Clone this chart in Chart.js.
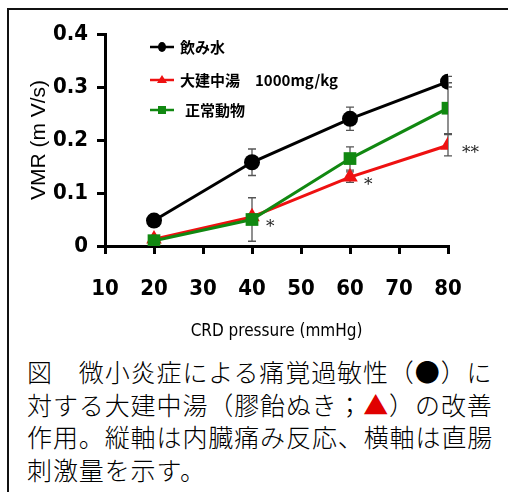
<!DOCTYPE html>
<html><head><meta charset="utf-8">
<script src="https://cdn.jsdelivr.net/npm/chart.js@4/dist/chart.umd.min.js"></script>
<style>
html,body{margin:0;padding:0;background:#fff;}
#wrap{position:relative;width:508px;height:492px;overflow:hidden;}
#frame{position:absolute;left:7px;top:8px;width:600px;height:600px;border-left:2px solid #111;border-top:2px solid #111;}
#c{position:absolute;left:0;top:0;}
#cap{position:absolute;left:27px;top:355px;font-family:"Noto Sans CJK JP";font-size:25px;line-height:32.5px;color:#000;white-space:nowrap;letter-spacing:0.9px;font-weight:300;}
.red{color:#e00000;}
</style></head><body>
<div id="wrap">
<div id="frame"></div>
<canvas id="c" width="508" height="345"></canvas>
<div id="cap">図　微小炎症による痛覚過敏性（●）に<br>対する大建中湯（膠飴ぬき；<span class="red">▲</span>）の改善<br>作用。縦軸は内臓痛み反応、横軸は直腸<br>刺激量を示す。</div>
</div>
<script>
const pressures = [20, 40, 60, 80];
const xTicks = [10, 20, 30, 40, 50, 60, 70, 80];
const yTicks = [0, 0.1, 0.2, 0.3, 0.4];
const seriesNames = ['飲み水', '大建中湯　1000mg/kg', '正常動物'];
const water = [0.048, 0.158, 0.24, 0.31];
const waterErr = [0.01, 0.025, 0.022, 0.01];
const daikenchuto = [0.013, 0.055, 0.13, 0.19];
const daikenchutoErr = [0.005, 0.005, 0.01, 0.02];
const normal = [0.01, 0.05, 0.165, 0.26];
const normalErr = [0.008, 0.041, 0.022, 0.048];
const marks = [{series: 2, idx: 1, text: '*'}, {series: 1, idx: 2, text: '*'}, {series: 1, idx: 3, text: '**'}];

const colors = ['#000000', '#ee1111', '#118811'];
const styles = ['circle', 'triangle', 'rect'];
const vals = [water, daikenchuto, normal];
const errs = [waterErr, daikenchutoErr, normalErr];
const orders = [1, 3, 2];
const radii = [8, 9, 9];

const datasets = vals.map((v, i) => ({
  label: seriesNames[i],
  data: pressures.map((p, j) => ({x: p, y: v[j]})),
  borderColor: colors[i],
  backgroundColor: colors[i],
  borderWidth: 3,
  pointStyle: styles[i],
  pointRadius: radii[i],
  pointBorderWidth: 0,
  order: orders[i]
}));

const narrow = '"DejaVu Sans Condensed", "Liberation Sans Narrow", "Liberation Sans", Arial';

const errorBars = {
  id: 'errorBars',
  beforeDatasetsDraw(chart) {
    const ctx = chart.ctx, xs = chart.scales.x, ys = chart.scales.y;
    ctx.save();
    ctx.strokeStyle = '#555';
    ctx.lineWidth = 1.3;
    errs.forEach((e, i) => {
      pressures.forEach((p, j) => {
        const x = xs.getPixelForValue(p);
        const y1 = ys.getPixelForValue(vals[i][j] + e[j]);
        const y2 = ys.getPixelForValue(vals[i][j] - e[j]);
        ctx.beginPath();
        ctx.moveTo(x, y1); ctx.lineTo(x, y2);
        ctx.moveTo(x - 4, y1); ctx.lineTo(x + 4, y1);
        ctx.moveTo(x - 4, y2); ctx.lineTo(x + 4, y2);
        ctx.stroke();
      });
    });
    ctx.restore();
  },
  afterDatasetsDraw(chart) {
    const ctx = chart.ctx, xs = chart.scales.x, ys = chart.scales.y;
    ctx.save();
    ctx.fillStyle = '#222';
    ctx.font = '17px "DejaVu Serif"';
    ctx.textBaseline = 'middle';
    marks.forEach(m => {
      const x = xs.getPixelForValue(pressures[m.idx]);
      const y = ys.getPixelForValue(vals[m.series][m.idx]);
      ctx.fillText(m.text, x + 14, y + 8);
    });
    // legend
    const rows = [47, 80, 110];
    ctx.font = 'bold 15px "Noto Sans CJK JP"';
    ctx.textBaseline = 'middle';
    rows.forEach((ry, i) => {
      ctx.strokeStyle = colors[i];
      ctx.fillStyle = colors[i];
      ctx.lineWidth = 2.5;
      ctx.beginPath(); ctx.moveTo(150, ry); ctx.lineTo(174, ry); ctx.stroke();
      const cx = 162;
      ctx.beginPath();
      if (i === 0) { ctx.ellipse(cx, ry, 4, 5, 0, 0, Math.PI * 2); }
      else if (i === 1) { ctx.moveTo(cx, ry - 5); ctx.lineTo(cx + 5, ry + 3); ctx.lineTo(cx - 5, ry + 3); ctx.closePath(); }
      else { ctx.rect(cx - 4, ry - 4, 8, 8); }
      ctx.fill();
      ctx.fillStyle = '#000';
      ctx.fillText(seriesNames[i], i === 2 ? 185 : 180, ry);
    });
    ctx.restore();
  }
};

const tickFont = {family: narrow, size: 22, weight: 'bold'};

new Chart(document.getElementById('c'), {
  type: 'line',
  data: {datasets},
  options: {
    responsive: false,
    animation: false,
    layout: {padding: {left: 8, top: 34, right: 60, bottom: 0}},
    plugins: {legend: {display: false}, tooltip: {enabled: false}},
    scales: {
      x: {
        type: 'linear', min: 10, max: 80,
        afterBuildTicks(s) { s.ticks = xTicks.map(v => ({value: v})); },
        afterFit(s) { s.height = 345 - 246; },
        grid: {drawOnChartArea: false, drawTicks: true, tickLength: 8, color: '#000', lineWidth: 3},
        border: {display: true, color: '#000', width: 3},
        ticks: {color: '#000', font: tickFont, padding: 22, maxRotation: 0},
        title: {display: true, text: 'CRD pressure (mmHg)', color: '#000', font: {family: narrow, size: 17}, padding: {top: 0, bottom: 3}}
      },
      y: {
        min: 0, max: 0.4,
        afterBuildTicks(s) { s.ticks = yTicks.map(v => ({value: v})); },
        afterFit(s) { s.width = 97; },
        grid: {drawOnChartArea: false, drawTicks: true, tickLength: 8, color: '#000', lineWidth: 3},
        border: {display: true, color: '#000', width: 3},
        ticks: {color: '#000', font: tickFont, padding: 9, callback: v => String(v)},
        title: {display: true, text: 'VMR (m V/s)', color: '#000', font: {family: '"Liberation Sans", Arial', size: 21}, padding: {top: 19, bottom: 0}}
      }
    }
  },
  plugins: [errorBars]
});
</script>
</body></html>
